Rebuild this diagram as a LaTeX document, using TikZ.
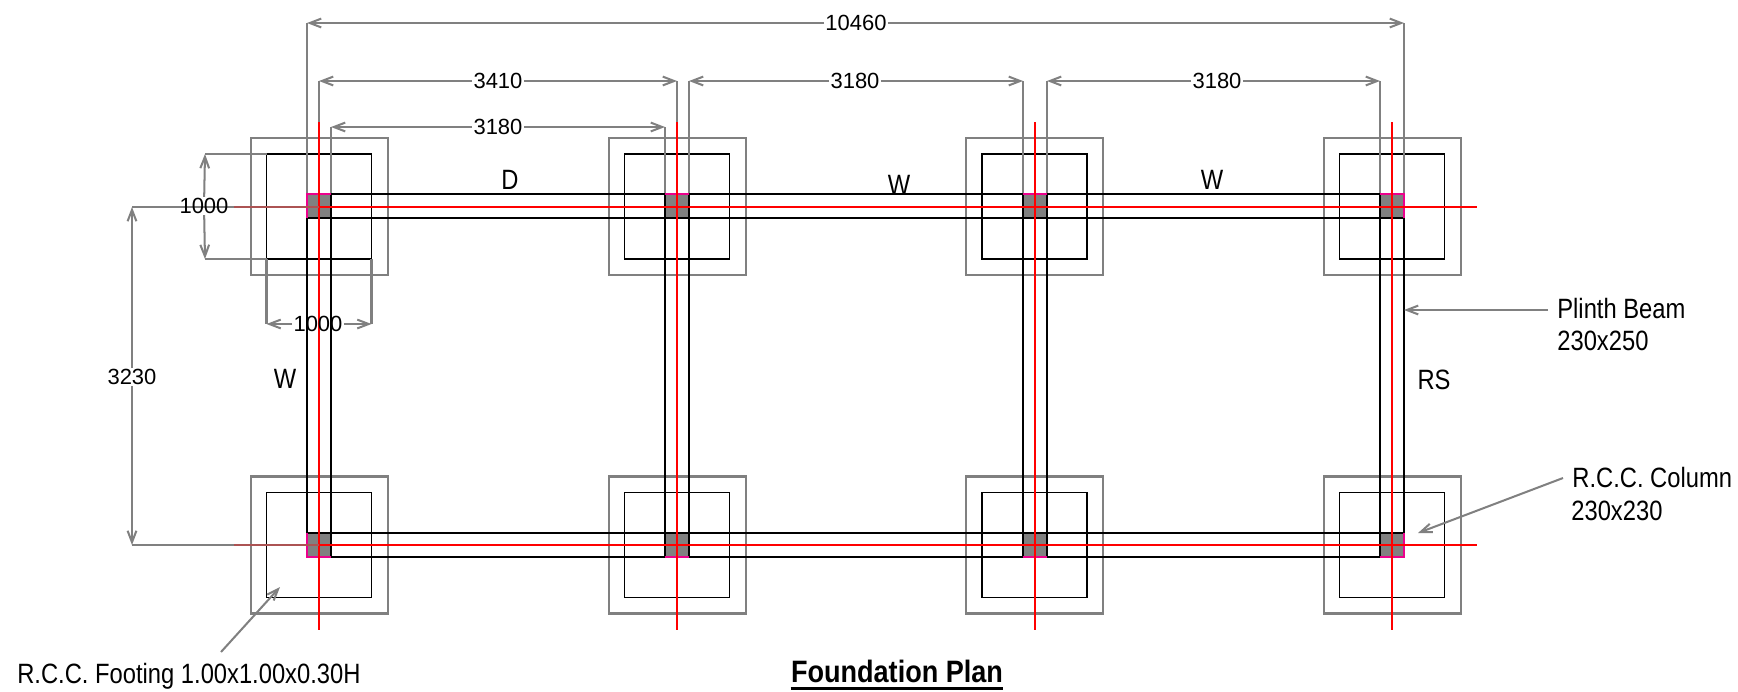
\documentclass[tikz,border=0pt]{standalone}
\usepackage{fontspec}
\setmainfont[FakeStretch=0.85]{Liberation Sans}
\newfontfamily\dimfont{Liberation Sans}
\newfontfamily\titlefont[FakeStretch=0.875]{Liberation Sans}
\usetikzlibrary{arrows.meta}
\tikzset{
	footout/.style={draw=gray,line width=1.2pt},
	footin/.style={draw=black,line width=1.05pt},
	colfill/.style={fill=gray},
	beam/.style={draw=black,line width=1.05pt},
	coledge/.style={draw=magenta,line width=1.2pt},
	axis/.style={draw=red,line width=1.15pt},
	axisthin/.style={draw=red,line width=0.8pt},
	extline/.style={draw=gray,line width=1.15pt},
	dimline/.style={draw=gray,line width=1.15pt,>={Straight Barb[length=6.5pt,width=5pt]}},
	dimtext/.style={font=\dimfont\fontsize{12.5}{15}\selectfont,inner sep=0.6pt},
	labeltext/.style={font=\fontsize{15.9}{19}\selectfont,inner sep=0pt,anchor=base},
	sidetext/.style={labeltext,anchor=base west}
}
\begin{document}
\begin{tikzpicture}[x=0.02cm,y=-0.02cm]
	\useasboundingbox (0,0) rectangle (1738,691);

	%footings outer
	\draw[footout] (251,138) rectangle (388,275);
	\draw[footout] (609,138) rectangle (746,275);
	\draw[footout] (966,138) rectangle (1103,275);
	\draw[footout] (1324,138) rectangle (1461,275);
	\draw[footout] (251,476.5) rectangle (388,613.5);
	\draw[footout] (609,476.5) rectangle (746,613.5);
	\draw[footout] (966,476.5) rectangle (1103,613.5);
	\draw[footout] (1324,476.5) rectangle (1461,613.5);

	%footings inner
	\draw[footin] (266.5,154) rectangle (371.5,259);
	\draw[footin] (624.5,154) rectangle (729.5,259);
	\draw[footin] (982,154) rectangle (1087,259);
	\draw[footin] (1339.5,154) rectangle (1444.5,259);
	\draw[footin] (266.5,492.5) rectangle (371.5,597.5);
	\draw[footin] (624.5,492.5) rectangle (729.5,597.5);
	\draw[footin] (982,492.5) rectangle (1087,597.5);
	\draw[footin] (1339.5,492.5) rectangle (1444.5,597.5);

	%extension lines
	\draw[extline] (307,23) -- (307,194); %overall left
	\draw[extline] (1404,23) -- (1404,194); %overall right
	\draw[extline] (319,81) -- (319,122);
	\draw[extline] (677,81) -- (677,122);
	\draw[extline] (331,127) -- (331,194);
	\draw[extline] (665,127) -- (665,194);
	\draw[extline] (689,81) -- (689,194);
	\draw[extline] (1023,81) -- (1023,194);
	\draw[extline] (1047,81) -- (1047,194);
	\draw[extline] (1380,81) -- (1380,194);
	\draw[extline] (205,154) -- (266.5,154);
	\draw[extline] (205,259) -- (266.5,259);
	\draw[extline] (266.5,259) -- (266.5,324);
	\draw[extline] (371.5,259) -- (371.5,324);

	%columns
	\fill[colfill] (307,194) rectangle (331,218);
	\fill[colfill] (665,194) rectangle (689,218);
	\fill[colfill] (1023,194) rectangle (1047,218);
	\fill[colfill] (1380,194) rectangle (1404,218);
	\fill[colfill] (307,533) rectangle (331,557);
	\fill[colfill] (665,533) rectangle (689,557);
	\fill[colfill] (1023,533) rectangle (1047,557);
	\fill[colfill] (1380,533) rectangle (1404,557);

	%plinth beams
	\draw[beam] (331,194) -- (1380,194);
	\draw[beam] (307,218) -- (1404,218);
	\draw[beam] (307,533) -- (1404,533);
	\draw[beam] (331,557) -- (1380,557);
	\draw[beam] (307,218) -- (307,533);
	\draw[beam] (331,194) -- (331,557);
	\draw[beam] (665,194) -- (665,557);
	\draw[beam] (689,194) -- (689,557);
	\draw[beam] (1023,194) -- (1023,557);
	\draw[beam] (1047,194) -- (1047,557);
	\draw[beam] (1380,194) -- (1380,557);
	\draw[beam] (1404,218) -- (1404,533);

	%magenta column edges
	\draw[coledge] (307,218) -- (307,194) -- (331,194);
	\draw[coledge] (665,194) -- (689,194);
	\draw[coledge] (1023,194) -- (1047,194);
	\draw[coledge] (1380,194) -- (1404,194) -- (1404,218);
	\draw[coledge] (307,533) -- (307,557) -- (331,557);
	\draw[coledge] (665,557) -- (689,557);
	\draw[coledge] (1023,557) -- (1047,557);
	\draw[coledge] (1380,557) -- (1404,557) -- (1404,533);

	%centre lines
	\draw[axisthin] (319,207) -- (1392,207);
	\draw[axisthin] (319,545) -- (1392,545);
	\draw[axisthin] (319,207) -- (319,545);
	\draw[axisthin] (677,207) -- (677,545);
	\draw[axisthin] (1035,207) -- (1035,545);
	\draw[axisthin] (1392,207) -- (1392,545);
	\draw[axis] (319,122) -- (319,292);
	\draw[axis] (677,122) -- (677,292);
	\draw[axis] (1035,122) -- (1035,292);
	\draw[axis] (1392,122) -- (1392,292);
	\draw[axis] (319,460) -- (319,630);
	\draw[axis] (677,460) -- (677,630);
	\draw[axis] (1035,460) -- (1035,630);
	\draw[axis] (1392,460) -- (1392,630);
	\draw[axis] (319,207) -- (404,207);
	\draw[axis] (592,207) -- (762,207);
	\draw[axis] (950,207) -- (1120,207);
	\draw[axis] (1307,207) -- (1477,207);
	\draw[axis] (319,545) -- (404,545);
	\draw[axis] (592,545) -- (762,545);
	\draw[axis] (950,545) -- (1120,545);
	\draw[axis] (1307,545) -- (1477,545);
	\draw[extline] (132,207) -- (234,207); %3230 top
	\draw[extline] (132,545) -- (234,545); %3230 bottom
	\draw[extline,draw=red!35!gray] (234,207) -- (319,207);
	\draw[extline,draw=red!35!gray] (234,545) -- (319,545);

	%dimension texts
	\node[dimtext] (dimAll) at (856,23) {10460};
	\node[dimtext] (dimA) at (498,81) {3410};
	\node[dimtext] (dimB) at (498,127) {3180};
	\node[dimtext] (dimC) at (855,81) {3180};
	\node[dimtext] (dimD) at (1217,81) {3180};
	\node[dimtext] (dimFootV) at (204,206) {1000};
	\node[dimtext] (dimFootH) at (318,324) {1000};
	\node[dimtext] (dimLeft) at (132,377) {3230};

	%dimension ends
	\coordinate (allL) at (307,23);
	\coordinate (allR) at (1404,23);
	\coordinate (aL) at (319,81);
	\coordinate (aR) at (677,81);
	\coordinate (bL) at (331,127);
	\coordinate (bR) at (665,127);
	\coordinate (cL) at (689,81);
	\coordinate (cR) at (1023,81);
	\coordinate (dL) at (1047,81);
	\coordinate (dR) at (1380,81);
	\coordinate (footT) at (205,154);
	\coordinate (footB) at (205,259);
	\coordinate (footL) at (266.5,324);
	\coordinate (footR) at (371.5,324);
	\coordinate (leftT) at (132,207);
	\coordinate (leftB) at (132,545);

	%dimension lines
	\draw[dimline,->] (dimAll) -- (allL);
	\draw[dimline,->] (dimAll) -- (allR);
	\draw[dimline,->] (dimA) -- (aL);
	\draw[dimline,->] (dimA) -- (aR);
	\draw[dimline,->] (dimB) -- (bL);
	\draw[dimline,->] (dimB) -- (bR);
	\draw[dimline,->] (dimC) -- (cL);
	\draw[dimline,->] (dimC) -- (cR);
	\draw[dimline,->] (dimD) -- (dL);
	\draw[dimline,->] (dimD) -- (dR);
	\draw[dimline,->] (dimFootV) -- (footT);
	\draw[dimline,->] (dimFootV) -- (footB);
	\draw[dimline,->] (dimFootH) -- (footL);
	\draw[dimline,->] (dimFootH) -- (footR);
	\draw[dimline,->] (dimLeft) -- (leftT);
	\draw[dimline,->] (dimLeft) -- (leftB);

	%labels
	\node[labeltext] (lblD) at (510,189) {D};
	\node[labeltext] (lblW1) at (899,194) {W};
	\node[labeltext] (lblW2) at (1212,189) {W};
	\node[labeltext] (lblW3) at (285,388) {W};
	\node[labeltext] (lblRS) at (1434,389) {RS};

	%callouts
	\node[sidetext] (plinthA) at (1557,318) {Plinth Beam};
	\node[sidetext] (plinthB) at (1557,350) {230x250};
	\node[sidetext] (columnA) at (1572,487) {R.C.C. Column};
	\node[sidetext] (columnB) at (1571,520) {230x230};
	\node[sidetext] (footing) at (17,683) {R.C.C. Footing 1.00x1.00x0.30H};
	\coordinate (plinthS) at (1548,310);
	\coordinate (plinthE) at (1404,310);
	\coordinate (columnS) at (1563,478);
	\coordinate (columnE) at (1418,533);
	\coordinate (footingS) at (221,652);
	\coordinate (footingE) at (280,587);
	\draw[dimline,->] (plinthS) -- (plinthE);
	\draw[dimline,->] (columnS) -- (columnE);
	\draw[dimline,->] (footingS) -- (footingE);

	%title
	\node[font=\titlefont\bfseries\fontsize{17.6}{21}\selectfont,anchor=base,inner xsep=0pt,inner ysep=3.4pt] (title) at (897,682) {Foundation Plan};
	\draw[line width=1.4pt] (title.south west) -- (title.south east);
\end{tikzpicture}
\end{document}
